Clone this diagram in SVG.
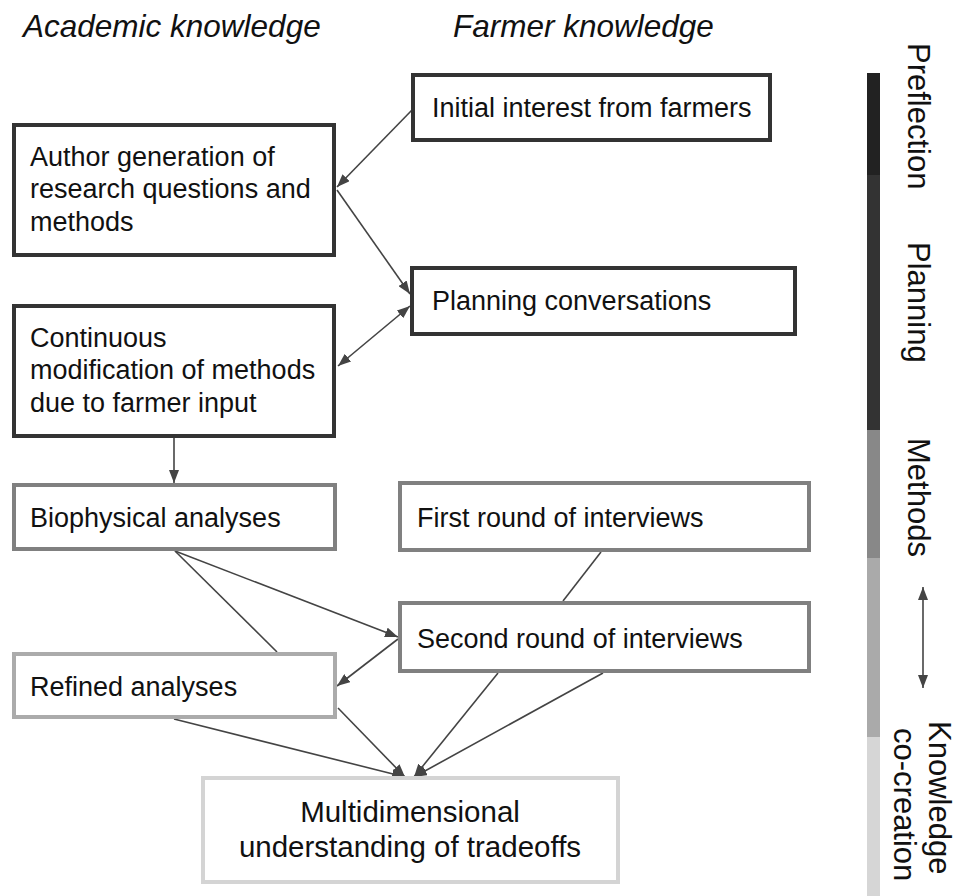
<svg xmlns="http://www.w3.org/2000/svg" width="959" height="896" viewBox="0 0 959 896">
<style>
.hdr{font-family:"Liberation Sans",Arial,sans-serif;font-style:italic;font-size:31.5px;fill:#111}
.t{font-family:"Liberation Sans",Arial,sans-serif;font-size:27px;fill:#111}
.big{font-family:"Liberation Sans",Arial,sans-serif;font-size:29.5px;fill:#111}
.side{font-family:"Liberation Sans",Arial,sans-serif;font-size:31px;fill:#111}
.b1{fill:#fff;stroke:#333;stroke-width:4}
.b2{fill:#fff;stroke:#808080;stroke-width:4}
.b3{fill:#fff;stroke:#ababab;stroke-width:4}
.b4{fill:#fff;stroke:#d4d4d4;stroke-width:4}
.c{fill:none;stroke:#444;stroke-width:1.6}
</style>
<defs>
<marker id="ah" viewBox="0 0 13 10" refX="13" refY="5" markerWidth="13" markerHeight="10" markerUnits="userSpaceOnUse" orient="auto-start-reverse">
<path d="M0,0 L13,5 L0,10 z" fill="#444"/>
</marker>
</defs>
<rect width="959" height="896" fill="#fff"/>
<text class="hdr" x="23" y="37">Academic knowledge</text>
<text class="hdr" x="453" y="37">Farmer knowledge</text>

<g id="connectors">
<line class="c" x1="412" y1="110" x2="337" y2="187" marker-end="url(#ah)"/>
<line class="c" x1="337" y1="190" x2="410" y2="294" marker-end="url(#ah)"/>
<line class="c" x1="338" y1="366" x2="410" y2="306" marker-start="url(#ah)" marker-end="url(#ah)"/>
<line class="c" x1="174" y1="438" x2="174" y2="483" marker-end="url(#ah)"/>
<line class="c" x1="175" y1="551" x2="398" y2="637" marker-end="url(#ah)"/>
<line class="c" x1="175" y1="551" x2="277" y2="652"/>
<line class="c" x1="398" y1="639" x2="337" y2="686" marker-end="url(#ah)"/>
<line class="c" x1="601" y1="552" x2="563" y2="601"/>
<line class="c" x1="174" y1="719" x2="405" y2="777" marker-end="url(#ah)"/>
<line class="c" x1="338" y1="708" x2="405" y2="777" marker-end="url(#ah)"/>
<line class="c" x1="498" y1="673" x2="414" y2="777" marker-end="url(#ah)"/>
<line class="c" x1="603" y1="673" x2="414" y2="777" marker-end="url(#ah)"/>
</g>

<g id="n-author">
<rect class="b1" x="14" y="125" width="320" height="130"/>
<text class="t" x="30" y="166">Author generation of</text>
<text class="t" x="30" y="198">research questions and</text>
<text class="t" x="30" y="231">methods</text>
</g>
<g id="n-continuous">
<rect class="b1" x="14" y="306" width="320" height="130"/>
<text class="t" x="30" y="347">Continuous</text>
<text class="t" x="30" y="379">modification of methods</text>
<text class="t" x="30" y="412">due to farmer input</text>
</g>
<g id="n-initial">
<rect class="b1" x="413" y="75" width="357" height="65"/>
<text class="t" x="432" y="117">Initial interest from farmers</text>
</g>
<g id="n-planning">
<rect class="b1" x="412" y="268" width="383" height="66"/>
<text class="t" x="432" y="310">Planning conversations</text>
</g>
<g id="n-biophysical">
<rect class="b2" x="14" y="485" width="321" height="64"/>
<text class="t" x="30" y="527">Biophysical analyses</text>
</g>
<g id="n-first">
<rect class="b2" x="400" y="483" width="409" height="67"/>
<text class="t" x="417" y="527">First round of interviews</text>
</g>
<g id="n-second">
<rect class="b2" x="400" y="603" width="409" height="68"/>
<text class="t" x="417" y="648">Second round of interviews</text>
</g>
<g id="n-refined">
<rect class="b3" x="14" y="654" width="321" height="63"/>
<text class="t" x="30" y="696">Refined analyses</text>
</g>
<g id="n-multi">
<rect class="b4" x="203" y="778" width="415" height="104"/>
<text class="big" x="410" y="822" text-anchor="middle">Multidimensional</text>
<text class="big" x="410" y="857" text-anchor="middle">understanding of tradeoffs</text>
</g>

<g id="phase-bar">
<rect x="867" y="73" width="13" height="102" fill="#222"/>
<rect x="867" y="175" width="13" height="255" fill="#333"/>
<rect x="867" y="430" width="13" height="128" fill="#888"/>
<rect x="867" y="558" width="13" height="179" fill="#aaa"/>
<rect x="867" y="737" width="13" height="159" fill="#d6d6d6"/>
<text class="side" transform="translate(908,43) rotate(90)">Preflection</text>
<text class="side" transform="translate(908,242) rotate(90)">Planning</text>
<text class="side" transform="translate(908,438) rotate(90)">Methods</text>
<line class="c" x1="923" y1="587" x2="923" y2="688" marker-start="url(#ah)" marker-end="url(#ah)"/>
<text class="side" style="font-size:31px" transform="translate(929,721) rotate(90)">Knowledge</text>
<text class="side" style="font-size:31px" transform="translate(894,728) rotate(90)">co-creation</text>
</g>
</svg>
